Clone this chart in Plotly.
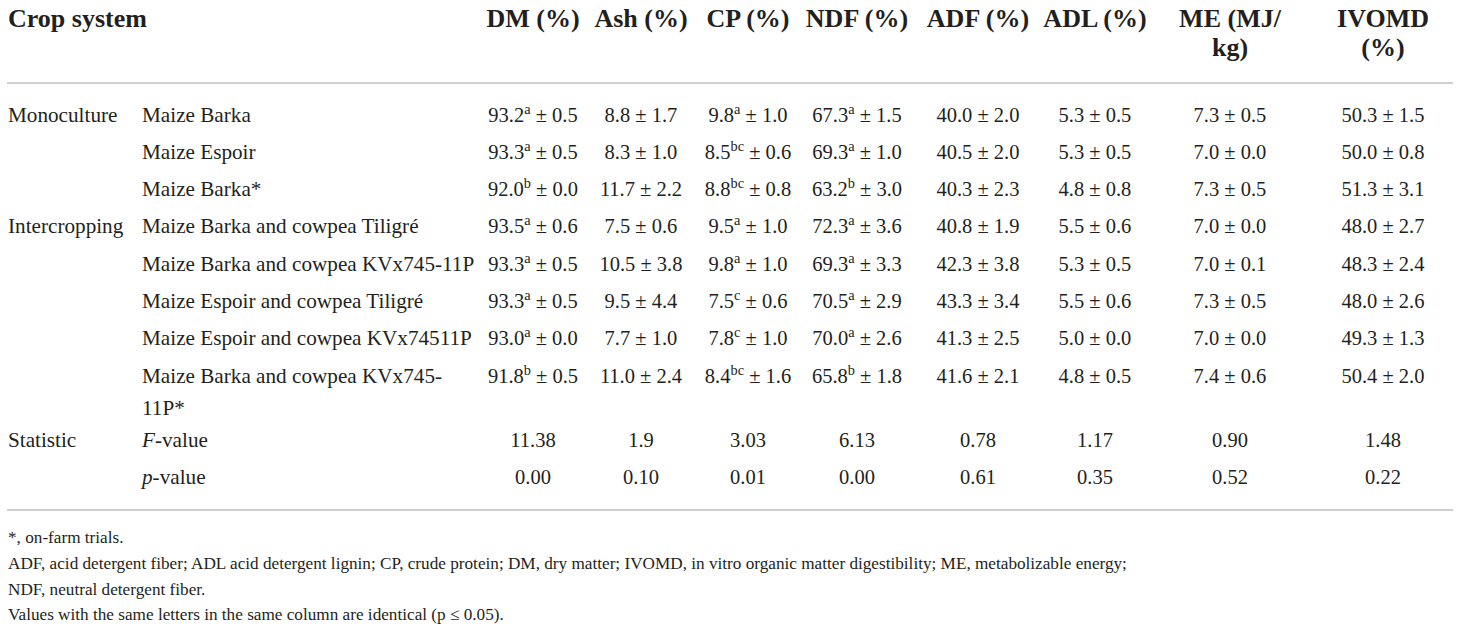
'''
Forage quality of maize stover by crop system (table redrawn with plotly)
'''

import plotly.graph_objs as go

# ---- table data ----
systems = ["Monoculture", "", "", "Intercropping", "", "", "", ""]
treatments = [
    "Maize Barka",
    "Maize Espoir",
    "Maize Barka*",
    "Maize Barka and cowpea Tiligré",
    "Maize Barka and cowpea KVx745-11P",
    "Maize Espoir and cowpea Tiligré",
    "Maize Espoir and cowpea KVx74511P",
    "Maize Barka and cowpea KVx745-<br>11P*",
]

columns = ["DM (%)", "Ash (%)", "CP (%)", "NDF (%)", "ADF (%)", "ADL (%)",
           "ME (MJ/", "IVOMD"]
columns_2nd_line = ["", "", "", "", "", "", "kg)", "(%)"]

dm_mean = [93.2, 93.3, 92.0, 93.5, 93.3, 93.3, 93.0, 91.8]
dm_sd = [0.5, 0.5, 0.0, 0.6, 0.5, 0.5, 0.0, 0.5]
dm_grp = ["a", "a", "b", "a", "a", "a", "a", "b"]

ash_mean = [8.8, 8.3, 11.7, 7.5, 10.5, 9.5, 7.7, 11.0]
ash_sd = [1.7, 1.0, 2.2, 0.6, 3.8, 4.4, 1.0, 2.4]

cp_mean = [9.8, 8.5, 8.8, 9.5, 9.8, 7.5, 7.8, 8.4]
cp_sd = [1.0, 0.6, 0.8, 1.0, 1.0, 0.6, 1.0, 1.6]
cp_grp = ["a", "bc", "bc", "a", "a", "c", "c", "bc"]

ndf_mean = [67.3, 69.3, 63.2, 72.3, 69.3, 70.5, 70.0, 65.8]
ndf_sd = [1.5, 1.0, 3.0, 3.6, 3.3, 2.9, 2.6, 1.8]
ndf_grp = ["a", "a", "b", "a", "a", "a", "a", "b"]

adf_mean = [40.0, 40.5, 40.3, 40.8, 42.3, 43.3, 41.3, 41.6]
adf_sd = [2.0, 2.0, 2.3, 1.9, 3.8, 3.4, 2.5, 2.1]

adl_mean = [5.3, 5.3, 4.8, 5.5, 5.3, 5.5, 5.0, 4.8]
adl_sd = [0.5, 0.5, 0.8, 0.6, 0.5, 0.6, 0.0, 0.5]

me_mean = [7.3, 7.0, 7.3, 7.0, 7.0, 7.3, 7.0, 7.4]
me_sd = [0.5, 0.0, 0.5, 0.0, 0.1, 0.5, 0.0, 0.6]

ivomd_mean = [50.3, 50.0, 51.3, 48.0, 48.3, 48.0, 49.3, 50.4]
ivomd_sd = [1.5, 0.8, 3.1, 2.7, 2.4, 2.6, 1.3, 2.0]

stat_labels = ["<i>F</i>-value", "<i>p</i>-value"]
f_values = ["11.38", "1.9", "3.03", "6.13", "0.78", "1.17", "0.90", "1.48"]
p_values = ["0.00", "0.10", "0.01", "0.00", "0.61", "0.35", "0.52", "0.22"]

footnotes = [
    "*, on-farm trials.",
    "ADF, acid detergent fiber; ADL acid detergent lignin; CP, crude protein; "
    "DM, dry matter; IVOMD, in vitro organic matter digestibility; ME, "
    "metabolizable energy;",
    "NDF, neutral detergent fiber.",
    "Values with the same letters in the same column are identical (p ≤ 0.05).",
]

# ---- layout (axes run in page pixels) ----
W, H = 1460, 627
FONT = "Liberation Serif"
INK = "#231f20"
RULE = "#cfcfcf"

col_x = [533, 641, 748, 857, 978, 1095, 1230, 1383]
row_y = [117, 154, 191, 228, 266, 303, 340, 378]
wrap_step = 32
stat_y = [442, 479]
head_y = [20, 49]
foot_y = [539, 565, 591, 616]
rules_y = [83, 510]
left_x = [8, 142]


def cell(mean, sd, grp=None):
    out = []
    for i in range(len(mean)):
        sup = "<sup>%s</sup>" % grp[i] if grp else ""
        out.append("%.1f%s ± %.1f" % (mean[i], sup, sd[i]))
    return out


value_cols = [
    cell(dm_mean, dm_sd, dm_grp),
    cell(ash_mean, ash_sd),
    cell(cp_mean, cp_sd, cp_grp),
    cell(ndf_mean, ndf_sd, ndf_grp),
    cell(adf_mean, adf_sd),
    cell(adl_mean, adl_sd),
    cell(me_mean, me_sd),
    cell(ivomd_mean, ivomd_sd),
]

fig = go.Figure()


def add_text(x, y, text, size, pos="middle center", bold=False):
    keep = [i for i, t in enumerate(text) if t]
    fig.add_trace(go.Scatter(
        x=[x[i] for i in keep], y=[y[i] for i in keep],
        text=[text[i] for i in keep], mode="text", textposition=pos,
        cliponaxis=False,
        textfont={"family": FONT, "size": size, "color": INK,
                  "weight": "bold" if bold else "normal"},
        hoverinfo="skip", showlegend=False,
    ))


# header
add_text([left_x[0]], [head_y[0]], ["Crop system"], 26, "middle right",
         bold=True)
add_text(col_x, [head_y[0]] * len(columns), columns, 26, bold=True)
add_text(col_x, [head_y[1]] * len(columns), columns_2nd_line, 26, bold=True)

# left label columns
add_text([left_x[0]] * len(systems), row_y, systems, 21.2, "middle right")
lab_x, lab_y, lab_t = [], [], []
for y, t in zip(row_y, treatments):
    for k, part in enumerate(t.split("<br>")):
        lab_x.append(left_x[1])
        lab_y.append(y + wrap_step * k)
        lab_t.append(part)
add_text(lab_x, lab_y, lab_t, 21.2, "middle right")

# values
for x, vals in zip(col_x, value_cols):
    add_text([x] * len(vals), row_y, vals, 20.5)

# statistics
add_text([left_x[0]], [stat_y[0]], ["Statistic"], 21.2, "middle right")
add_text([left_x[1]] * 2, stat_y, stat_labels, 21.2, "middle right")
add_text(col_x, [stat_y[0]] * len(col_x), f_values, 20.5)
add_text(col_x, [stat_y[1]] * len(col_x), p_values, 20.5)

# footnotes
add_text([left_x[0]] * len(footnotes), foot_y, footnotes, 17.2, "middle right")

for y in rules_y:
    fig.add_shape(type="line", xref="x", yref="y", x0=7, x1=1453, y0=y, y1=y,
                  line={"color": RULE, "width": 2})

fig.update_layout(
    width=W, height=H,
    margin={"l": 0, "r": 0, "t": 0, "b": 0},
    paper_bgcolor="white", plot_bgcolor="white",
    xaxis={"range": [0, W], "visible": False, "fixedrange": True},
    yaxis={"range": [H, 0], "visible": False, "fixedrange": True},
    showlegend=False,
)

# drop the browser's default 8px body margin so the figure fills the window
fig.write_html("out.html", config={"displayModeBar": False},
               post_script="document.body.style.margin = '0';")
